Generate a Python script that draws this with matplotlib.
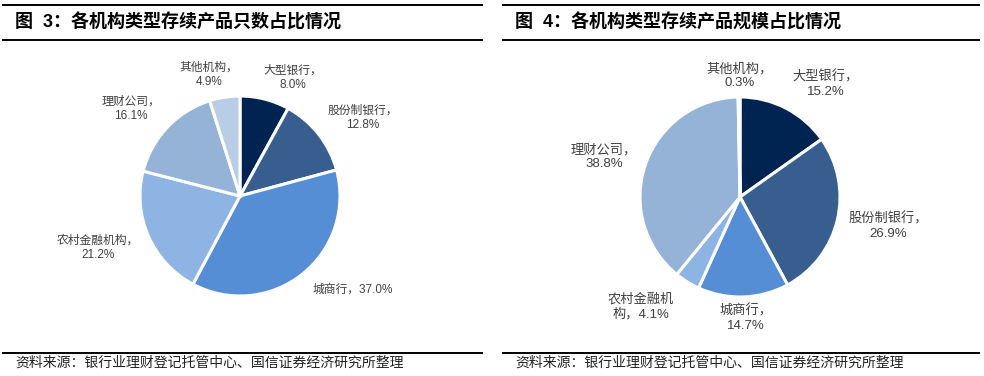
import matplotlib
matplotlib.use("Agg")
import matplotlib.pyplot as plt
import numpy as np

plt.rcParams['font.family'] = ['Liberation Sans', 'Noto Sans CJK SC', 'DejaVu Sans']

categories = ["大型银行", "股份制银行", "城商行", "农村金融机构", "理财公司", "其他机构"]
count_share = [8.0, 12.8, 37.0, 21.2, 16.1, 4.9]
scale_share = [15.2, 26.9, 14.7, 4.1, 38.8, 0.3]
colors = ["#002452", "#375E8F", "#558ED5", "#8EB4E3", "#95B3D7", "#B9CDE5"]

title_left = "图  3：各机构类型存续产品只数占比情况"
title_right = "图  4：各机构类型存续产品规模占比情况"
source = "资料来源：银行业理财登记托管中心、国信证券经济研究所整理"

W, H = 984, 376
fig = plt.figure(figsize=(W / 100, H / 100), dpi=100)


def px_line(x0, x1, y, lw=1.4):
    fig.add_artist(plt.Line2D([x0 / W, x1 / W], [1 - y / H, 1 - y / H],
                              color="black", lw=lw))


def draw_pie(cx, cy, values, labels_text, label_pos, fs):
    side = 300
    ax = fig.add_axes([(cx - side / 2) / W, 1 - (cy + side / 2) / H, side / W, side / H])
    ax.pie(values, colors=colors, startangle=90, counterclock=False, radius=1,
           wedgeprops=dict(edgecolor="white", linewidth=2.2))
    ax.set_xlim(-1.5, 1.5)
    ax.set_ylim(-1.5, 1.5)
    ax.set_aspect("equal")
    ax.axis("off")
    for txt, (x, y) in zip(labels_text, label_pos):
        ax.text(x, y, txt, ha="center", va="center", fontsize=fs, color="#404040",
                linespacing=1.25, clip_on=False)


# left panel
px_line(3, 482, 5)
px_line(3, 482, 40)
fig.text(15 / W, 1 - 22 / H, title_left, fontsize=13, fontweight="bold", va="center")
left_labels = [f"{c}，\n{v:.1f}%" for c, v in zip(categories, count_share)]
left_labels[2] = f"{categories[2]}，{count_share[2]:.1f}%"
left_pos = [(0.53, 1.18), (1.23, 0.78), (1.13, -0.94), (-1.42, -0.52), (-1.09, 0.87), (-0.31, 1.21)]
draw_pie(240, 196, count_share, left_labels, left_pos, 8.5)
px_line(3, 482, 353)
fig.text(15 / W, 1 - 363 / H, source, fontsize=10, va="center", color="#222222")

# right panel
px_line(503, 979, 5)
px_line(503, 979, 40)
fig.text(515 / W, 1 - 22 / H, title_right, fontsize=13, fontweight="bold", va="center")
right_labels = [f"{c}，\n{v:.1f}%" for c, v in zip(categories, scale_share)]
right_labels[3] = f"农村金融机\n构，{scale_share[3]:.1f}%"
right_pos = [(0.86, 1.13), (1.48, -0.29), (0.06, -1.21), (-0.99, -1.10), (-1.36, 0.40), (0.0, 1.21)]
draw_pie(740, 197, scale_share, right_labels, right_pos, 9.5)
px_line(503, 979, 353)
fig.text(515 / W, 1 - 363 / H, source, fontsize=10, va="center", color="#222222")

fig.savefig("out.png", dpi=100)
